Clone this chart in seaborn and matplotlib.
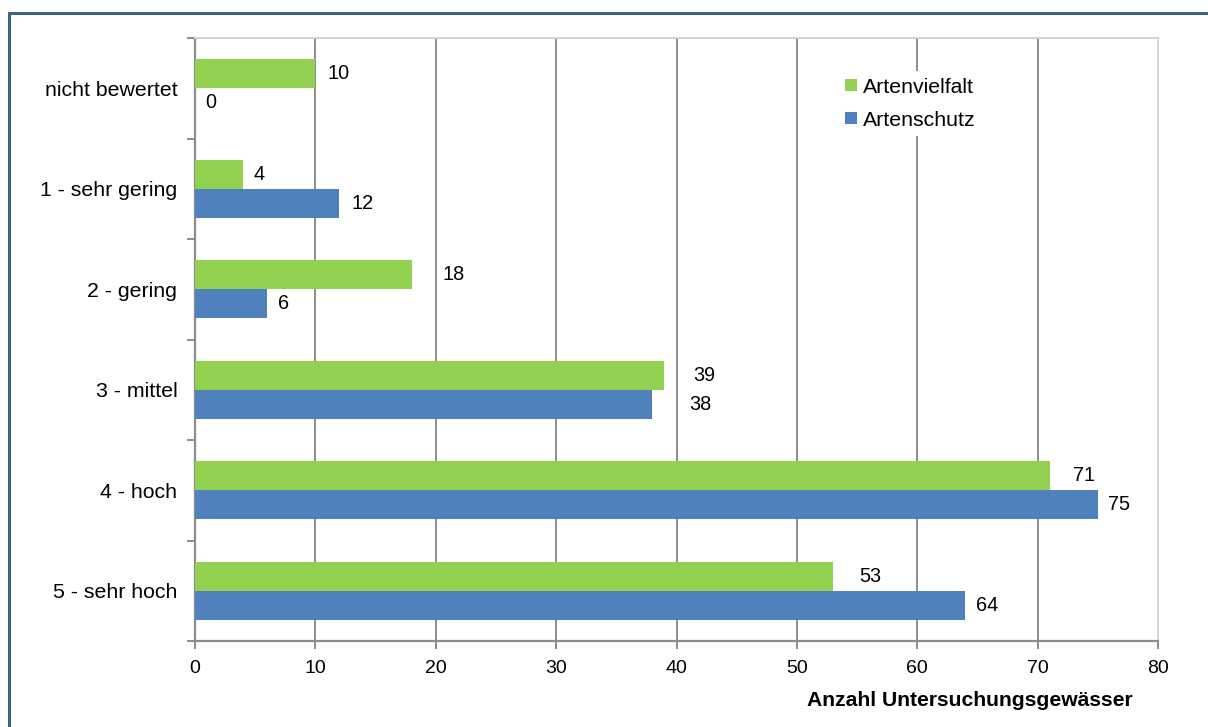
import matplotlib
matplotlib.use("Agg")
import matplotlib.pyplot as plt
import seaborn as sns
import pandas as pd
import numpy as np
from matplotlib.patches import Rectangle
from matplotlib.lines import Line2D

# Bewertungsklassen und Anzahl der Untersuchungsgewässer
categories = ["nicht bewertet", "1 - sehr gering", "2 - gering", "3 - mittel", "4 - hoch", "5 - sehr hoch"]
artenvielfalt = [10, 4, 18, 39, 71, 53]
artenschutz = [0, 12, 6, 38, 75, 64]
series_names = ["Artenvielfalt", "Artenschutz"]
x_ticks = [0, 10, 20, 30, 40, 50, 60, 70, 80]

# horizontal label offsets in pixels (to the right of the bar end)
label_dx_green = [23, 16, 42, 40, 34, 37]
label_dx_blue = [16, 23, 16, 48, 21, 22]

GREEN = "#92d050"
BLUE = "#4f81bd"

df = pd.DataFrame({
    "Kategorie": categories * 2,
    "Anzahl": artenvielfalt + artenschutz,
    "Reihe": [series_names[0]] * len(categories) + [series_names[1]] * len(categories),
})

sns.set_theme(style="white")
plt.rcParams["font.family"] = ["Liberation Sans", "DejaVu Sans"]
plt.rcParams["text.color"] = "black"

W, H = 1208, 727
fig = plt.figure(figsize=(W / 100, H / 100), dpi=100)
ax = fig.add_axes([195 / W, 1 - 641 / H, (1158 - 195) / W, (641 - 38) / H])

sns.barplot(data=df, y="Kategorie", x="Anzahl", hue="Reihe", order=categories,
            hue_order=series_names, palette=[GREEN, BLUE], orient="h",
            width=0.58, saturation=1, ax=ax, legend=False, zorder=3, linewidth=0)

ax.set_xlim(0, 80)
ax.set_ylim(len(categories) - 0.5, -0.5)
ax.set_xticks(x_ticks)
ax.set_xticklabels([str(t) for t in x_ticks], fontsize=14)
ax.set_ylabel("")
ax.set_xlabel("")

# vertical gridlines
for t in x_ticks[1:-1]:
    ax.axvline(t, color="#8c8c8c", lw=1.4, zorder=1)

# spines
for s in ["top", "right"]:
    ax.spines[s].set_color("#d4d4d4")
    ax.spines[s].set_linewidth(1.4)
for s in ["left", "bottom"]:
    ax.spines[s].set_color("#8c8c8c")
    ax.spines[s].set_linewidth(1.6)

# y ticks: labels at categories, tick marks at class borders
ax.set_yticks(range(len(categories)))
ax.set_yticklabels(categories, fontsize=15.3)
ax.tick_params(axis="y", which="major", length=0, pad=12.7, labelcolor="black")
ax.set_yticks(np.arange(-0.5, len(categories), 1.0), minor=True)
ax.tick_params(axis="y", which="minor", left=True, length=6, width=1.4, color="#8c8c8c")
ax.tick_params(axis="x", which="major", bottom=True, length=6, width=1.4, color="#8c8c8c",
               pad=8, labelcolor="black")

# value labels
px2pt = 72 / 100
for i, (g, b) in enumerate(zip(artenvielfalt, artenschutz)):
    ax.annotate(str(g), xy=(g, i - 0.145), xytext=(label_dx_green[i] * px2pt, 0),
                textcoords="offset points", ha="center", va="center", fontsize=14.3,
                color="black")
    ax.annotate(str(b), xy=(b, i + 0.145), xytext=(label_dx_blue[i] * px2pt, 0),
                textcoords="offset points", ha="center", va="center", fontsize=14.3,
                color="black")

# legend
handles = [Line2D([], [], marker="s", linestyle="none", markersize=8, color=c, markeredgewidth=0)
           for c in [GREEN, BLUE]]
leg = ax.legend(handles, series_names, loc="center left", bbox_to_anchor=(0.669, 0.891),
                frameon=True, fontsize=15.3, handlelength=0.55, handletextpad=0.25,
                labelspacing=0.65, borderpad=0.3, borderaxespad=0, labelcolor="black")
leg.get_frame().set_facecolor("white")
leg.get_frame().set_edgecolor("none")
leg.get_frame().set_alpha(1)
leg.set_zorder(5)

fig.text(1133 / W, 1 - 701 / H, "Anzahl Untersuchungsgewässer", ha="right", va="center",
         fontsize=15.2, fontweight="bold", color="black")

# frame around the figure
fig.patches.append(Rectangle((9 / W, -0.1), 1.2, 1 - 13 / H + 0.1, transform=fig.transFigure,
                             fill=False, edgecolor="#3b6580", lw=2.2, zorder=0))

fig.savefig("out.png", dpi=100)
